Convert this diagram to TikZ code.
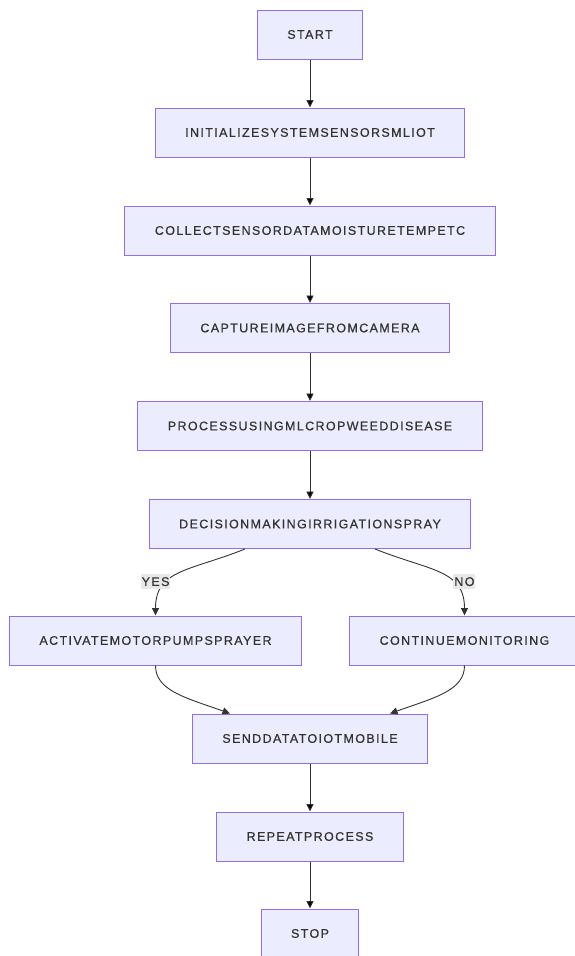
\documentclass[tikz,border=0pt]{standalone}
\usepackage{fontspec}
\newfontfamily\flowfont[LetterSpace=11,FakeBold=0.6]{Liberation Sans}
\usetikzlibrary{positioning,arrows.meta}
\definecolor{boxfill}{HTML}{ECECFF}
\definecolor{boxline}{HTML}{9370DB}
\definecolor{ink}{HTML}{333333}
\definecolor{labelbg}{HTML}{E8E8E8}

\begin{document}
\begin{tikzpicture}[x=1pt,y=1pt,node distance=98pt,on grid,
    font=\flowfont\fontsize{12.5}{15}\selectfont,
    stepbox/.style={draw=boxline,fill=boxfill,line width=1pt,text=ink,
      minimum height=49pt,inner xsep=30pt},
    flow/.style={draw=ink,line width=0.9pt,-{Triangle[length=7.5pt,width=7pt]}},
    tag/.style={fill=labelbg,text=ink,inner xsep=1pt,inner ysep=3pt}]
   \useasboundingbox (0,0) rectangle (574,-956);
   \node[stepbox] (start) at (310,-34.5) {START};
   \node[stepbox] (init) [below=of start] {INITIALIZESYSTEMSENSORSMLIOT};
   \node[stepbox] (collect) [below=of init] {COLLECTSENSORDATAMOISTURETEMPETC};
   \node[stepbox] (capture) [below=97.5pt of collect] {CAPTUREIMAGEFROMCAMERA};
   \node[stepbox] (process) [below=of capture] {PROCESSUSINGMLCROPWEEDDISEASE};
   \node[stepbox] (decision) [below=of process] {DECISIONMAKINGIRRIGATIONSPRAY};
   \node[stepbox] (activate) [below left=116.5pt and 154.5pt of decision] {ACTIVATEMOTORPUMPSPRAYER};
   \node[stepbox] (continue) [below right=116.5pt and 154.5pt of decision] {CONTINUEMONITORING};
   \node[stepbox] (send) [below=214.5pt of decision] {SENDDATATOIOTMOBILE};
   \node[stepbox] (repeat) [below=of send] {REPEATPROCESS};
   \node[stepbox] (stop) [below=97pt of repeat] {STOP};
    \path[flow]
    (start) edge (init)
    (init) edge (collect)
    (collect) edge (capture)
    (capture) edge (process)
    (process) edge (decision)
    (send) edge (repeat)
    (repeat) edge (stop);
   % the two branches
   \draw[flow] ([xshift=-65pt]decision.south) .. controls +(-55,-22) and +(0,46) ..
      node[tag,pos=0.65,xshift=-12pt] {YES} (activate.north);
   \draw[flow] ([xshift=65pt]decision.south) .. controls +(55,-22) and +(0,46) ..
      node[tag,pos=0.65,xshift=12pt] {NO} (continue.north);
   \draw[flow] (activate.south) .. controls +(0,-25) and +(-45,16) .. ([xshift=-80pt]send.north);
   \draw[flow] (continue.south) .. controls +(0,-25) and +(45,16) .. ([xshift=80pt]send.north);
\end{tikzpicture}
\end{document}
